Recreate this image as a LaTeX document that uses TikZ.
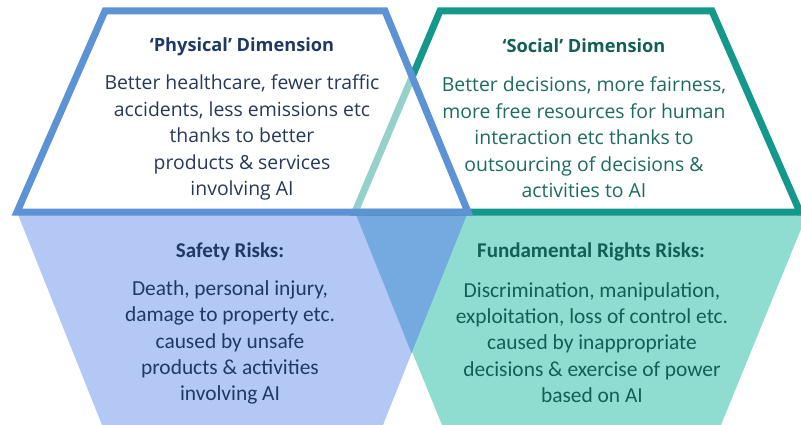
\documentclass[tikz,border=0pt]{standalone}
\usepackage{fontspec}
\setmainfont{Carlito}
\newfontfamily\upfont{Open Sans}
\definecolor{blueline}{HTML}{5B93D5}
\definecolor{tealline}{HTML}{15988C}
\definecolor{llfill}{HTML}{B4C8F5}
\definecolor{lrfill}{HTML}{8EDDD0}
\definecolor{ovfill}{HTML}{74AADF}
\definecolor{navytext}{HTML}{1F3864}
\definecolor{navybody}{HTML}{263A58}
\definecolor{tealtext}{HTML}{135F57}
\definecolor{tealbody}{HTML}{1D6B62}
\tikzset{
  upshape/.style={line width=7pt, line join=miter},
  uptitle/.style={font=\upfont\fontsize{18.2}{22}\selectfont\bfseries, inner sep=0pt},
  upbody/.style={font=\upfont\fontsize{19.4}{26.5}\selectfont, align=center, inner sep=0pt},
  lowtitle/.style={font=\fontsize{21}{26}\selectfont\bfseries, inner sep=0pt},
  lowbody/.style={font=\fontsize{21.4}{26.2}\selectfont, align=center, inner sep=0pt}
}
\begin{document}
\begin{tikzpicture}[x=1pt,y=-1pt]
\useasboundingbox (0,0) rectangle (801,425);
\begin{scope}
\clip (0,0) rectangle (801,425);
% lower shapes
\fill[llfill] (17,212) -- (468,212) -- (383,425) -- (102,425) -- cycle;
\fill[lrfill] (355,212) -- (808,212) -- (721,425) -- (442,425) -- cycle;
\fill[ovfill] (355,212) -- (468,212) -- (411.5,353) -- cycle;
% upper right shape
\draw[upshape, draw=tealline, fill=white] (440,11) -- (712,11) -- (800,212) -- (355,212) -- cycle;
% upper left shape
\fill[white, fill opacity=0.55] (105,11) -- (385,11) -- (468,212) -- (17,212) -- cycle;
\draw[upshape, draw=blueline] (105,11) -- (385,11) -- (468,212) -- (17,212) -- cycle;
\end{scope}
% texts
\node[uptitle, text=navytext] (physT) at (242,46.5) {‘Physical’ Dimension};
\node[upbody, text=navybody] (physB) at (242,137.5) {Better healthcare, fewer traffic\\accidents, less emissions etc\\thanks to better\\products \& services\\involving AI};
\node[uptitle, text=tealtext] (socT) at (584,46) {‘Social’ Dimension};
\node[upbody, text=tealbody] (socB) at (584,137.5) {Better decisions, more fairness,\\more free resources for human\\interaction etc thanks to\\outsourcing of decisions \&\\activities to AI};
\node[lowtitle, text=navytext] (safT) at (230,252) {Safety Risks:};
\node[lowbody, text=navytext] (safB) at (230,342.5) {Death, personal injury,\\damage to property etc.\\caused by unsafe\\products \& activities\\involving AI};
\node[lowtitle, text=tealtext] (funT) at (591,252) {Fundamental Rights Risks:};
\node[lowbody, text=tealtext] (funB) at (592,342.5) {Discrimination, manipulation,\\exploitation, loss of control etc.\\caused by inappropriate\\decisions \& exercise of power\\based on AI};
\end{tikzpicture}
\end{document}
